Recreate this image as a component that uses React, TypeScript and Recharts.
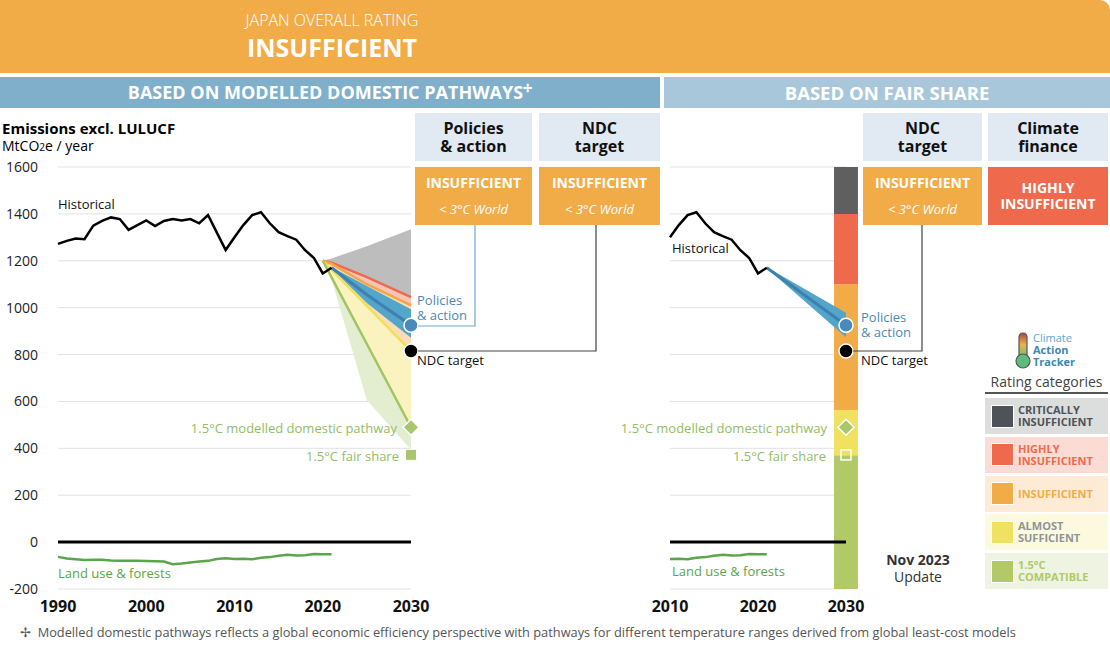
import React from 'react';
import {
  ComposedChart,
  Line,
  Area,
  XAxis,
  YAxis,
  CartesianGrid,
  ReferenceLine,
  ReferenceArea,
  ReferenceDot
} from 'recharts';

// --- data (MtCO2e / year) ---
const histYears = [
  1990, 1991, 1992, 1993, 1994, 1995, 1996, 1997, 1998, 1999, 2000, 2001, 2002, 2003, 2004, 2005,
  2006, 2007, 2008, 2009, 2010, 2011, 2012, 2013, 2014, 2015, 2016, 2017, 2018, 2019, 2020, 2021
];
const historical = [
  1272, 1285, 1295, 1292, 1350, 1370, 1385, 1378, 1332, 1352, 1372, 1348, 1370, 1378, 1372, 1378,
  1360, 1395, 1320, 1246, 1300, 1352, 1395, 1407, 1360, 1322, 1305, 1290, 1245, 1212, 1146, 1170
];
const landUse = [
  -63, -70, -73, -76, -75, -75, -78, -80, -80, -80, -81, -82, -83, -94, -91, -87,
  -83, -80, -72, -69, -72, -71, -73, -67, -64, -58, -54, -57, -56, -51, -52, -52
];

const projYears = [2020, 2021, 2025, 2030];
const greyUpper = [1200, 1210, 1262, 1335];
const redPath = [1200, 1192, 1130, 1045];
const orangePath = [1200, 1187, 1100, 1010];
const yellowPath = [1200, 1162, 1008, 815];
const greenPath = [1200, 1129, 845, 490];
const greenLower = [1200, 1120, 605, 395];

const policyYears = [2021, 2025, 2030];
const policyHigh = [1172, 1092, 993];
const policyMid = [1170, 1055, 925];
const policyLow = [1168, 1020, 872];

const fairYears = [2021, 2030];
const fairHigh = [1172, 978];
const fairMid = [1170, 925];
const fairLow = [1168, 874];

const fairBounds = [-200, 371, 563, 1100, 1400, 1600];
const fairColors = ['#b1c966', '#f0e160', '#f2ac47', '#ef6a4c', '#5f5f5f'];

const policiesPoint = 925;
const ndcPoint = 815;
const modelledPoint = 490;
const fairSharePoint = 372;

const yTicks = [-200, 0, 200, 400, 600, 800, 1000, 1200, 1400, 1600];
const leftXTicks = [1990, 2000, 2010, 2020, 2030];
const rightXTicks = [2010, 2020, 2030];

const legendItems = [
  { label: ['CRITICALLY', 'INSUFFICIENT'], color: '#4d5358', bg: '#dcdddd', text: '#4d5358' },
  { label: ['HIGHLY', 'INSUFFICIENT'], color: '#ef6a4c', bg: '#fbdcd5', text: '#ef6a4c' },
  { label: ['INSUFFICIENT'], color: '#f2ac47', bg: '#fdebd6', text: '#f2ac47' },
  { label: ['ALMOST', 'SUFFICIENT'], color: '#f0e160', bg: '#fdf9de', text: '#8f9498' },
  { label: ['1.5°C', 'COMPATIBLE'], color: '#b1c966', bg: '#eef3e2', text: '#b1c966' }
];

// build tables for the charts
type Row = { [k: string]: any };
function buildLeft(): Row[] {
  const map = new Map<number, Row>();
  const get = (y: number) => {
    if (!map.has(y)) map.set(y, { year: y });
    return map.get(y)!;
  };
  histYears.forEach((y, i) => {
    const r = get(y);
    r.hist = historical[i];
    r.land = landUse[i];
  });
  projYears.forEach((y, i) => {
    const r = get(y);
    r.grey = [redPath[i], greyUpper[i]];
    r.pink = [orangePath[i], redPath[i]];
    r.peach = [yellowPath[i], orangePath[i]];
    r.lightYellow = [greenPath[i], yellowPath[i]];
    r.lightGreen = [greenLower[i], greenPath[i]];
    r.red = redPath[i];
    r.orange = orangePath[i];
    r.yellow = yellowPath[i];
    r.green = greenPath[i];
  });
  policyYears.forEach((y, i) => {
    const r = get(y);
    r.blue = [policyLow[i], policyHigh[i]];
    r.blueMid = policyMid[i];
  });
  return Array.from(map.values()).sort((a, b) => a.year - b.year);
}

function buildRight(): Row[] {
  const map = new Map<number, Row>();
  const get = (y: number) => {
    if (!map.has(y)) map.set(y, { year: y });
    return map.get(y)!;
  };
  histYears.forEach((y, i) => {
    if (y < 2010) return;
    const r = get(y);
    r.hist = historical[i];
    r.land = landUse[i];
  });
  fairYears.forEach((y, i) => {
    const r = get(y);
    r.blue = [fairLow[i], fairHigh[i]];
    r.blueMid = fairMid[i];
  });
  return Array.from(map.values()).sort((a, b) => a.year - b.year);
}

const leftData = buildLeft();
const rightData = buildRight();

const FONT = '"Open Sans", "Noto Sans", sans-serif';

const dotShape = (fill: string) => (p: any) => (
  <circle cx={p.cx} cy={p.cy} r={7} fill={fill} stroke="#fff" strokeWidth={1.5} />
);
const diamondShape = (p: any) => (
  <polygon
    points={`${p.cx},${p.cy - 8} ${p.cx + 8},${p.cy} ${p.cx},${p.cy + 8} ${p.cx - 8},${p.cy}`}
    fill="#a8c66c"
    stroke="#fff"
    strokeWidth={1.5}
  />
);
const squareShape = (filled: boolean) => (p: any) => (
  <rect
    x={p.cx - 5}
    y={p.cy - 5}
    width={10}
    height={10}
    fill={filled ? '#a8c66c' : 'none'}
    stroke={filled ? 'none' : '#fff'}
    strokeWidth={1.5}
  />
);

const yTick = { fontSize: 14, fill: '#222', fontFamily: FONT };
const xTick = { fontSize: 16, fill: '#111', fontWeight: 700, fontFamily: FONT };

function abs(left: number, top: number, extra: React.CSSProperties = {}): React.CSSProperties {
  return { position: 'absolute', left, top, ...extra };
}

function HeadBox({ x, w, lines }: { x: number; w: number; lines: string[] }) {
  return (
    <div
      style={abs(x, 113, {
        width: w,
        height: 48,
        background: '#e1eaf2',
        display: 'flex',
        flexDirection: 'column',
        justifyContent: 'center',
        alignItems: 'center',
        fontWeight: 700,
        fontSize: 16,
        lineHeight: '18px',
        color: '#111'
      })}
    >
      {lines.map((l) => (
        <div key={l}>{l}</div>
      ))}
    </div>
  );
}

function RatingBox({ x, w, bg, lines, sub }: { x: number; w: number; bg: string; lines: string[]; sub?: string }) {
  return (
    <div
      style={abs(x, 167, {
        width: w,
        height: 58,
        background: bg,
        color: '#fff',
        display: 'flex',
        flexDirection: 'column',
        justifyContent: 'center',
        alignItems: 'center',
        fontWeight: 700,
        fontSize: 14,
        lineHeight: '16px'
      })}
    >
      {lines.map((l) => (
        <div key={l}>{l}</div>
      ))}
      {sub && (
        <div style={{ fontStyle: 'italic', fontWeight: 400, fontSize: 13, marginTop: 10 }}>{sub}</div>
      )}
    </div>
  );
}

function Txt({ x, y, children, style }: { x: number; y: number; children: React.ReactNode; style?: React.CSSProperties }) {
  return <div style={abs(x, y, { fontSize: 13, lineHeight: '15px', whiteSpace: 'nowrap', ...style })}>{children}</div>;
}

function RText({ right, y, children, color }: { right: number; y: number; children: React.ReactNode; color: string }) {
  return (
    <div style={{ position: 'absolute', right: 1110 - right, top: y, fontSize: 13, color, whiteSpace: 'nowrap' }}>
      {children}
    </div>
  );
}

export default function App() {
  return (
    <div
      style={{
        position: 'absolute',
        left: 0,
        top: 0,
        width: 1110,
        height: 650,
        background: '#fff',
        fontFamily: FONT,
        overflow: 'hidden'
      }}
    >
      {/* banner */}
      <div style={abs(0, 0, { width: 1110, height: 73, background: '#f2ac47', borderTopRightRadius: 10 })} />
      <div style={abs(0, 9, { width: 664, textAlign: 'center', color: '#fff', fontSize: 16, fontWeight: 300 })}>
        JAPAN OVERALL RATING
      </div>
      <div style={abs(0, 30, { width: 664, textAlign: 'center', color: '#fff', fontSize: 25, fontWeight: 700 })}>
        INSUFFICIENT
      </div>
      <div
        style={abs(0, 77, {
          width: 660,
          height: 31,
          background: '#80afcb',
          color: '#fff',
          fontWeight: 700,
          fontSize: 18,
          lineHeight: '31px',
          textAlign: 'center'
        })}
      >
        BASED ON MODELLED DOMESTIC PATHWAYS<span style={{ fontSize: 11, verticalAlign: 'top', lineHeight: '22px' }}>✢</span>
      </div>
      <div
        style={abs(664, 77, {
          width: 446,
          height: 31,
          background: '#a9c7db',
          color: '#fff',
          fontWeight: 700,
          fontSize: 18.5,
          lineHeight: '31px',
          textAlign: 'center'
        })}
      >
        BASED ON FAIR SHARE
      </div>

      {/* axis title */}
      <Txt x={2} y={119} style={{ fontWeight: 700, fontSize: 15, lineHeight: '18px' }}>
        Emissions excl. LULUCF
      </Txt>
      <Txt x={2} y={137} style={{ fontSize: 14, lineHeight: '18px' }}>
        MtCO<span style={{ fontSize: 10 }}>2</span>e / year
      </Txt>

      {/* left chart */}
      <div style={abs(0, 0)}>
        <ComposedChart width={430} height={650} data={leftData} margin={{ top: 167, right: 19, bottom: 31, left: 0 }}>
          <CartesianGrid vertical={false} stroke="#e2e2e2" />
          <XAxis
            dataKey="year"
            type="number"
            domain={[1990, 2030]}
            ticks={leftXTicks}
            axisLine={false}
            tickLine={false}
            tickMargin={6}
            height={30}
            tick={xTick}
          />
          <YAxis
            type="number"
            domain={[-200, 1600]}
            ticks={yTicks}
            axisLine={false}
            tickLine={false}
            tickMargin={14}
            width={58}
            tick={yTick}
          />
          <Area dataKey="lightGreen" stroke="none" fill="#e3edcf" fillOpacity={1} isAnimationActive={false} />
          <Area dataKey="lightYellow" stroke="none" fill="#faf3c0" fillOpacity={1} isAnimationActive={false} />
          <Area dataKey="peach" stroke="none" fill="#fbdcb6" fillOpacity={1} isAnimationActive={false} />
          <Area dataKey="pink" stroke="none" fill="#f7c5b8" fillOpacity={1} isAnimationActive={false} />
          <Area dataKey="grey" stroke="none" fill="#bdbdbd" fillOpacity={1} isAnimationActive={false} />
          <Area dataKey="blue" stroke="none" fill="#53a6c9" fillOpacity={1} isAnimationActive={false} />
          <Line dataKey="red" stroke="#ef6a4c" strokeWidth={2.5} dot={false} isAnimationActive={false} />
          <Line dataKey="orange" stroke="#f2a645" strokeWidth={2.5} dot={false} isAnimationActive={false} />
          <Line dataKey="yellow" stroke="#f1df55" strokeWidth={2.5} dot={false} isAnimationActive={false} />
          <Line dataKey="green" stroke="#a2c462" strokeWidth={2.5} dot={false} isAnimationActive={false} />
          <Line dataKey="blueMid" stroke="#3d80b2" strokeWidth={3} dot={false} isAnimationActive={false} />
          <ReferenceLine y={0} stroke="#000" strokeWidth={3} />
          <Line dataKey="hist" stroke="#000" strokeWidth={2.5} dot={false} isAnimationActive={false} />
          <Line dataKey="land" stroke="#5aa54a" strokeWidth={2.5} dot={false} isAnimationActive={false} />
          <ReferenceDot x={2030} y={policiesPoint} shape={dotShape('#4a8ab8')} ifOverflow="visible" />
          <ReferenceDot x={2030} y={ndcPoint} shape={dotShape('#000')} ifOverflow="visible" />
          <ReferenceDot x={2030} y={modelledPoint} shape={diamondShape} ifOverflow="visible" />
          <ReferenceDot x={2030} y={fairSharePoint} shape={squareShape(true)} ifOverflow="visible" />
        </ComposedChart>
      </div>

      {/* right chart */}
      <div style={abs(600, 0)}>
        <ComposedChart width={280} height={650} data={rightData} margin={{ top: 167, right: 34, bottom: 31, left: 70 }}>
          <CartesianGrid vertical={false} stroke="#e2e2e2" />
          <XAxis
            dataKey="year"
            type="number"
            domain={[2010, 2030]}
            ticks={rightXTicks}
            axisLine={false}
            tickLine={false}
            tickMargin={6}
            height={30}
            tick={xTick}
          />
          <YAxis type="number" domain={[-200, 1600]} ticks={yTicks} hide />
          {fairColors.map((c, i) => (
            <ReferenceArea
              key={c}
              x1={2028.64}
              x2={2031.36}
              y1={fairBounds[i]}
              y2={fairBounds[i + 1]}
              fill={c}
              fillOpacity={1}
              stroke="none"
              ifOverflow="visible"
            />
          ))}
          <Area dataKey="blue" stroke="none" fill="#53a6c9" fillOpacity={1} isAnimationActive={false} />
          <Line dataKey="blueMid" stroke="#3d80b2" strokeWidth={3} dot={false} isAnimationActive={false} />
          <ReferenceLine y={0} stroke="#000" strokeWidth={3} />
          <Line dataKey="hist" stroke="#000" strokeWidth={2.5} dot={false} isAnimationActive={false} />
          <Line dataKey="land" stroke="#5aa54a" strokeWidth={2.5} dot={false} isAnimationActive={false} />
          <ReferenceDot x={2030} y={policiesPoint} shape={dotShape('#4a8ab8')} ifOverflow="visible" />
          <ReferenceDot x={2030} y={ndcPoint} shape={dotShape('#000')} ifOverflow="visible" />
          <ReferenceDot x={2030} y={modelledPoint} shape={diamondShape} ifOverflow="visible" />
          <ReferenceDot x={2030} y={fairSharePoint} shape={squareShape(false)} ifOverflow="visible" />
        </ComposedChart>
      </div>

      {/* connectors */}
      <svg width={1110} height={650} style={abs(0, 0, { pointerEvents: 'none' })}>
        <path d="M475 225 V326 H418" fill="none" stroke="#6fa8cc" strokeWidth={1.2} />
        <path d="M596 225 V351 H418" fill="none" stroke="#444" strokeWidth={1.2} />
        <path d="M922 225 V351 H853" fill="none" stroke="#444" strokeWidth={1.2} />
      </svg>

      {/* rating boxes */}
      <HeadBox x={415} w={117} lines={['Policies', '& action']} />
      <HeadBox x={539} w={121} lines={['NDC', 'target']} />
      <HeadBox x={863} w={119} lines={['NDC', 'target']} />
      <HeadBox x={988} w={120} lines={['Climate', 'finance']} />
      <RatingBox x={415} w={117} bg="#f2ac47" lines={['INSUFFICIENT']} sub="< 3°C World" />
      <RatingBox x={539} w={121} bg="#f2ac47" lines={['INSUFFICIENT']} sub="< 3°C World" />
      <RatingBox x={863} w={119} bg="#f2ac47" lines={['INSUFFICIENT']} sub="< 3°C World" />
      <RatingBox x={988} w={120} bg="#ef6a4c" lines={['HIGHLY', 'INSUFFICIENT']} />

      {/* labels left */}
      <Txt x={58} y={197} style={{ color: '#111' }}>Historical</Txt>
      <Txt x={58} y={566} style={{ color: '#5aa54a' }}>Land use &amp; forests</Txt>
      <Txt x={417} y={293} style={{ color: '#4a8ab8' }}>
        Policies
        <br />& action
      </Txt>
      <Txt x={417} y={353} style={{ color: '#111' }}>NDC target</Txt>
      <RText right={397} y={419} color="#93bd62">1.5°C modelled domestic pathway</RText>
      <RText right={399} y={447} color="#93bd62">1.5°C fair share</RText>

      {/* labels right */}
      <Txt x={672} y={241} style={{ color: '#111' }}>Historical</Txt>
      <Txt x={672} y={564} style={{ color: '#5aa54a' }}>Land use &amp; forests</Txt>
      <Txt x={861} y={310} style={{ color: '#4a8ab8' }}>
        Policies
        <br />& action
      </Txt>
      <Txt x={861} y={353} style={{ color: '#111' }}>NDC target</Txt>
      <RText right={827} y={419} color="#93bd62">1.5°C modelled domestic pathway</RText>
      <RText right={826} y={447} color="#93bd62">1.5°C fair share</RText>

      {/* update */}
      <div style={abs(870, 551, { width: 96, textAlign: 'center', fontSize: 14, lineHeight: '17px', color: '#333' })}>
        <div style={{ fontWeight: 700 }}>Nov 2023</div>
        <div>Update</div>
      </div>

      {/* logo + legend */}
      <svg width={20} height={38} style={abs(1013, 332)}>
        <defs>
          <linearGradient id="thermo" x1="0" y1="0" x2="0" y2="1">
            <stop offset="0%" stopColor="#b0413e" />
            <stop offset="45%" stopColor="#e9b44c" />
            <stop offset="100%" stopColor="#5dbb7b" />
          </linearGradient>
        </defs>
        <rect x={6} y={1} width={8} height={26} rx={4} fill="url(#thermo)" stroke="#555" strokeWidth={1.2} />
        <circle cx={10} cy={29} r={7} fill="#5dbb7b" stroke="#555" strokeWidth={1.2} />
      </svg>
      <div style={abs(1033, 332, { fontSize: 11, lineHeight: '12px', color: '#3d86b0' })}>
        <div style={{ color: '#5aa6d0' }}>Climate</div>
        <div style={{ fontWeight: 700 }}>Action</div>
        <div style={{ fontWeight: 700 }}>Tracker</div>
      </div>
      <div style={abs(985, 372, { width: 123, textAlign: 'center', fontSize: 14, color: '#444' })}>Rating categories</div>
      <div style={abs(985, 392, { width: 123, height: 2, background: '#555' })} />
      {legendItems.map((it, i) => (
        <div
          key={it.color}
          style={abs(985, 398 + i * 38.8, {
            width: 123,
            height: 36,
            background: it.bg,
            display: 'flex',
            alignItems: 'center'
          })}
        >
          <div
            style={{
              width: 21,
              height: 21,
              marginLeft: 6,
              background: it.color,
              border: '1px solid #fff',
              flexShrink: 0
            }}
          />
          <div style={{ marginLeft: 4, fontSize: 11, lineHeight: '12px', fontWeight: 700, color: it.text }}>
            {it.label.map((l) => (
              <div key={l}>{l}</div>
            ))}
          </div>
        </div>
      ))}

      {/* footnote */}
      <div style={abs(20, 623, { fontSize: 12.8, color: '#555', whiteSpace: 'nowrap' })}>
        ✢&nbsp; Modelled domestic pathways reflects a global economic efficiency perspective with pathways for different
        temperature ranges derived from global least-cost models
      </div>
    </div>
  );
}
